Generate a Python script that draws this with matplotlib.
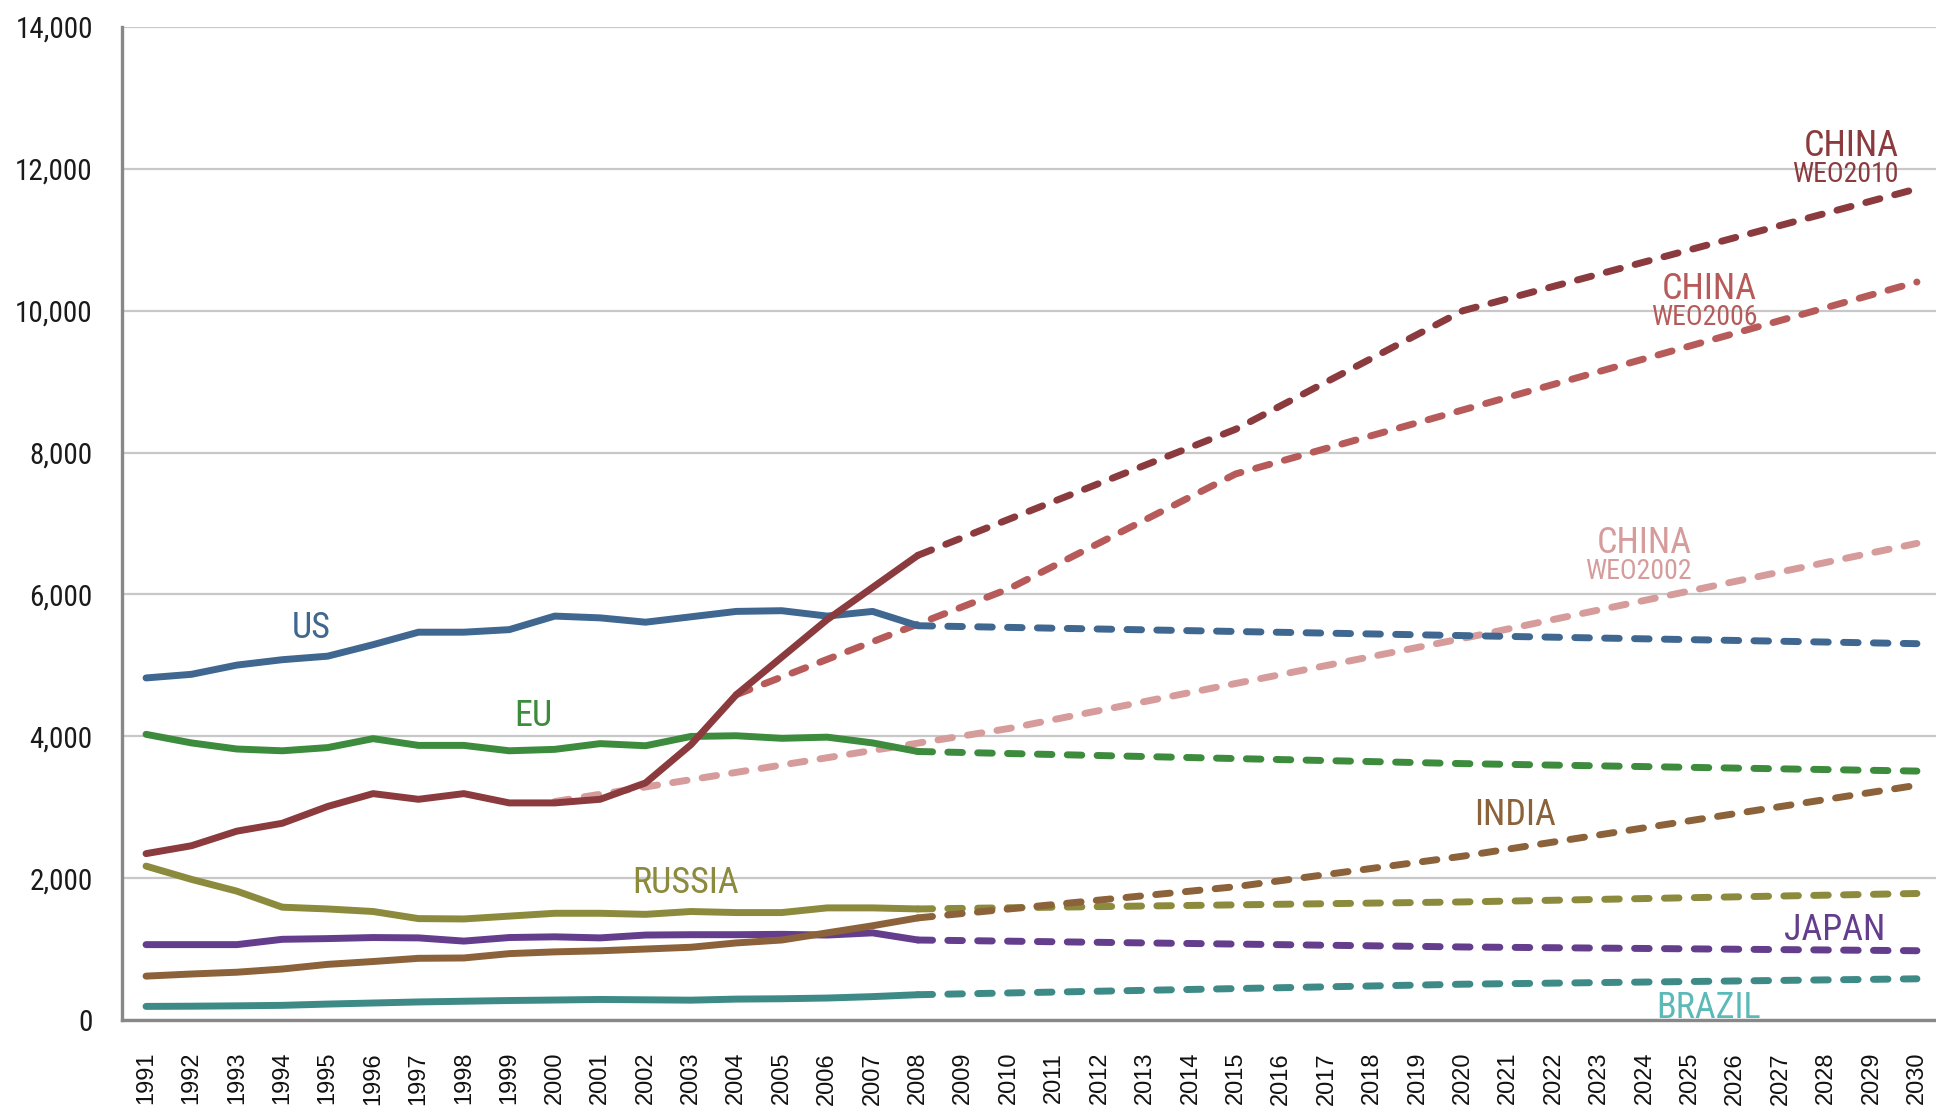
import matplotlib
matplotlib.use("Agg")
import matplotlib.pyplot as plt
from matplotlib.ticker import FixedLocator

# ---------------- data ----------------
hist_years = list(range(1991, 2009))
us_hist = [4823, 4874, 5004, 5080, 5130, 5292, 5468, 5468, 5504, 5695, 5670, 5609, 5685, 5761, 5771, 5695, 5761, 5559]
eu_hist = [4028, 3907, 3821, 3796, 3841, 3967, 3872, 3872, 3796, 3816, 3897, 3867, 3998, 4008, 3972, 3988, 3907, 3786]
china_hist = [2346, 2457, 2663, 2774, 3011, 3192, 3112, 3192, 3061, 3061, 3112, 3343, 3882, 4587, 5116, 5645, 6098, 6552]
russia_hist = [2170, 1983, 1817, 1591, 1566, 1530, 1430, 1425, 1465, 1505, 1505, 1490, 1530, 1515, 1515, 1581, 1581, 1566]
japan_hist = [1063, 1063, 1063, 1138, 1148, 1163, 1158, 1113, 1163, 1173, 1158, 1198, 1203, 1203, 1208, 1198, 1229, 1128]
india_hist = [619, 649, 674, 719, 785, 825, 870, 875, 936, 961, 976, 1001, 1026, 1087, 1128, 1229, 1329, 1440]
brazil_hist = [192, 195, 200, 207, 225, 240, 255, 265, 275, 282, 290, 285, 280, 295, 300, 310, 330, 357]

proj_years = [2008, 2020, 2030]
us_proj = [5559, 5420, 5306]
eu_proj = [3786, 3615, 3510]
russia_proj = [1566, 1665, 1784]
japan_proj = [1128, 1030, 977]
brazil_proj = [357, 505, 581]

india_proj_years = [2008, 2015, 2020, 2030]
india_proj = [1440, 1880, 2310, 3310]

china2010_years = [2008, 2015, 2020, 2030]
china2010 = [6552, 8330, 10000, 11720]
china2006_years = [2004, 2010, 2015, 2030]
china2006 = [4587, 6080, 7700, 10405]
china2002_years = [2000, 2010, 2020, 2030]
china2002 = [3080, 4110, 5380, 6720]

all_years = list(range(1991, 2031))
y_ticks = [0, 2000, 4000, 6000, 8000, 10000, 12000, 14000]
y_tick_labels = ["0", "2,000", "4,000", "6,000", "8,000", "10,000", "12,000", "14,000"]

# ---------------- style ----------------
C_US = "#3F6790"
C_EU = "#3D8B3D"
C_CN10 = "#8B3A3E"
C_CN06 = "#B65B5A"
C_CN02 = "#D69C9C"
C_RU = "#8C8A3C"
C_IN = "#8B6239"
C_JP = "#643D8C"
C_BR = "#3E8A87"
C_BR_LABEL = "#5BBAB8"

COND = "Roboto Condensed"
LW = 5.0
DASH = (2.1, 2.2)

fig = plt.figure(figsize=(19.36, 11.08), dpi=100)
ax = fig.add_axes([0.0630, 0.0794, 0.9370, 0.8962])
ax.set_xlim(1990.47, 2030.42)
ax.set_ylim(0, 14000)

def solid(x, y, c, z):
    ax.plot(x, y, color=c, lw=LW, solid_capstyle='round', solid_joinstyle='round', zorder=z)

def dashed(x, y, c, z):
    ax.plot(x, y, color=c, lw=LW, linestyle=(0, DASH), dash_capstyle='round',
            dash_joinstyle='round', zorder=z)

dashed(china2002_years, china2002, C_CN02, 3)
dashed(china2006_years, china2006, C_CN06, 3.1)
dashed(china2010_years, china2010, C_CN10, 3.2)
dashed(proj_years, us_proj, C_US, 3)
dashed(proj_years, eu_proj, C_EU, 3)
dashed(proj_years, russia_proj, C_RU, 3)
dashed(proj_years, japan_proj, C_JP, 3)
dashed(india_proj_years, india_proj, C_IN, 3.05)
dashed(proj_years, brazil_proj, C_BR, 3)

solid(hist_years, brazil_hist, C_BR, 4)
solid(hist_years, japan_hist, C_JP, 4)
solid(hist_years, india_hist, C_IN, 4.1)
solid(hist_years, russia_hist, C_RU, 4)
solid(hist_years, eu_hist, C_EU, 4)
solid(hist_years, us_hist, C_US, 4)
solid(hist_years, china_hist, C_CN10, 4.2)

# axes styling
ax.yaxis.set_major_locator(FixedLocator(y_ticks))
ax.set_yticklabels(y_tick_labels)
ax.xaxis.set_major_locator(FixedLocator(all_years))
ax.set_xticklabels([str(y) for y in all_years])
ax.grid(axis='y', color='#C8C8C8', lw=1.6, zorder=0)
ax.set_axisbelow(True)
for s in ('top', 'right'):
    ax.spines[s].set_visible(False)
for s in ('left', 'bottom'):
    ax.spines[s].set_color('#888888')
    ax.spines[s].set_linewidth(2.4)
    ax.spines[s].set_zorder(5)
ax.tick_params(axis='both', length=0)
ax.tick_params(axis='y', pad=21)
ax.tick_params(axis='x', pad=23)
for t in ax.get_yticklabels():
    t.set_fontfamily(COND)
    t.set_fontsize(21)
    t.set_color('#1A1A1A')
for t in ax.get_xticklabels():
    t.set_fontfamily('Liberation Sans')
    t.set_fontsize(17)
    t.set_rotation(90)
    t.set_color('#111111')
    t.set_va('top')
    t.set_ha('center')

# labels
def lab(x, y, s, c, size=26, ha='center'):
    ax.text(x, y, s, color=c, fontsize=size, family=COND, ha=ha, va='baseline', zorder=6)

lab(1994.63, 5386, "US", C_US)
lab(1999.53, 4150, "EU", C_EU)
lab(2002.88, 1790, "RUSSIA", C_RU)
lab(2021.15, 2749, "INDIA", C_IN)
lab(2028.19, 1128, "JAPAN", C_JP)
lab(2025.42, 28, "BRAZIL", C_BR_LABEL)

lab(2029.60, 12181, "CHINA", C_CN10, ha='right')
lab(2029.60, 11815, "WEO2010", C_CN10, size=20, ha='right')
lab(2026.48, 10165, "CHINA", C_CN06, ha='right')
lab(2026.48, 9798, "WEO2006", C_CN06, size=20, ha='right')
lab(2025.04, 6584, "CHINA", C_CN02, ha='right')
lab(2025.04, 6217, "WEO2002", C_CN02, size=20, ha='right')

fig.savefig("out.png", dpi=100)
